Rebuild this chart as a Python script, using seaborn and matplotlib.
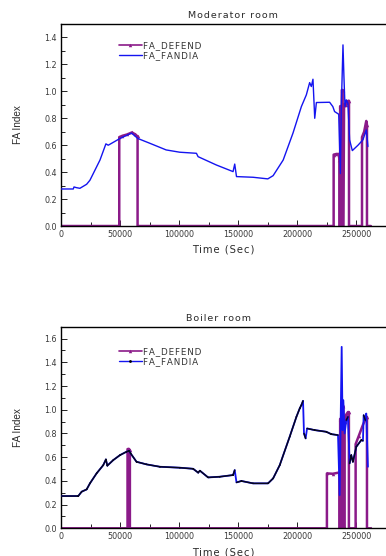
import matplotlib
matplotlib.use("Agg")
import matplotlib.pyplot as plt
from matplotlib.ticker import MultipleLocator, FuncFormatter
from matplotlib.lines import Line2D
import seaborn as sns
import pandas as pd
import numpy as np

# -----------------------------
# DATA
# -----------------------------
# Moderator room
mod_fandia_t = [0, 10400, 11000, 13000, 16000, 21700, 24500, 33000, 38000, 40000,
                49900, 59700, 65000, 75000, 89000, 100500, 114600, 116000, 131500,
                145600, 147000, 148500, 162500, 175000, 179500, 188000, 196300,
                203400, 207600, 210400, 211800, 213200, 214700, 216100, 227300,
                230000, 231500, 235000, 236400, 237200, 238600, 239400, 240300,
                241400, 242800, 244200, 246500, 251300, 255500, 258300, 259200, 259700]
mod_fandia_v = [0.275, 0.275, 0.29, 0.285, 0.28, 0.31, 0.34, 0.49, 0.61, 0.60,
                0.65, 0.69, 0.65, 0.615, 0.565, 0.548, 0.54, 0.515, 0.453,
                0.404, 0.46, 0.367, 0.362, 0.35, 0.374, 0.49, 0.69,
                0.887, 0.974, 1.065, 1.036, 1.09, 0.80, 0.917, 0.919,
                0.887, 0.85, 0.83, 0.39, 0.887, 1.345, 1.11, 0.887,
                0.937, 0.91, 0.64, 0.56, 0.60, 0.64, 0.714, 0.64, 0.59]

mod_defend_t = [0, 49300, 49300, 52000, 56000, 60000, 63000, 64800, 64800,
                230700, 230700, 233000, 235000, 235600, 235600, 236200, 236200,
                237000, 237000, 237600, 237600, 238300, 238300, 239000, 239500,
                240500, 241500, 243000, 243700, 243700, 254700, 254700, 256500,
                258300, 258900, 258900, 262000]
mod_defend_v = [0.0, 0.0, 0.66, 0.67, 0.68, 0.695, 0.68, 0.665, 0.0,
                0.0, 0.53, 0.535, 0.535, 0.49, 0.0, 0.0, 0.89, 0.89, 0.0,
                0.0, 1.01, 1.01, 0.0, 0.0, 0.9, 0.91, 0.90, 0.93, 0.93, 0.0,
                0.0, 0.66, 0.70, 0.78, 0.75, 0.0, 0.0]

# Boiler room
boil_fandia_t = [0, 14600, 17500, 21700, 24500, 30100, 35800, 38000, 39200, 44200,
                 49900, 55500, 57700, 58900, 63900, 72400, 83700, 100600, 111800,
                 116100, 117500, 124500, 134400, 145600, 147000, 148500, 152700,
                 162500, 175200, 179500, 185100, 193500, 199200, 202000, 203400,
                 204800, 205600, 207000, 208200, 214700, 224500, 228700, 234400,
                 235800, 236600, 237500, 238300, 238900, 240000, 241400, 242800,
                 244200, 245600, 247000, 249900, 254100, 255500, 256100, 257500,
                 258300, 259700]
boil_fandia_v = [0.272, 0.272, 0.309, 0.328, 0.379, 0.463, 0.533, 0.581, 0.528, 0.575,
                 0.617, 0.646, 0.654, 0.632, 0.561, 0.539, 0.519, 0.511, 0.502,
                 0.469, 0.486, 0.429, 0.435, 0.449, 0.491, 0.387, 0.399,
                 0.379, 0.379, 0.421, 0.533, 0.772, 0.940, 1.011, 1.039,
                 1.075, 0.80, 0.758, 0.842, 0.828, 0.814, 0.794, 0.786,
                 0.28, 0.884, 1.53, 0.828, 1.08, 0.80, 0.912, 0.94,
                 0.547, 0.617, 0.561, 0.688, 0.744, 0.738, 0.954, 0.912,
                 0.968, 0.519]

boil_defend_t = [0, 56300, 56300, 57300, 58300, 58300, 225000, 225000, 230000,
                 235200, 235600, 235600, 236200, 236200, 236800, 236800, 238300,
                 238300, 239000, 239000, 240000, 240000, 241400, 242800, 243600,
                 243600, 249300, 249300, 252000, 255000, 258300, 258900, 258900, 262000]
boil_defend_v = [0.0, 0.0, 0.668, 0.67, 0.66, 0.0, 0.0, 0.463, 0.46,
                 0.47, 0.47, 0.0, 0.0, 0.923, 0.923, 0.0, 0.0,
                 1.03, 1.03, 0.0, 0.0, 0.90, 0.96, 0.98, 0.98,
                 0.0, 0.0, 0.71, 0.78, 0.86, 0.94, 0.94, 0.0, 0.0]

titles = ["Moderator room", "Boiler room"]
title_x = [0.528, 0.485]
ylims = [1.5, 1.7]
ytick_max = [1.4, 1.6]
legend_labels = ["FA_DEFEND", "FA_FANDIA"]

PURPLE = "#8b1a89"
BLUE = "#1414f0"
TXT = "#2a2a2a"
HS = "\u200a"  # hair space, the original text is letter-spaced


def spaced(s):
    return HS.join(s)


sns.set_style("ticks")
plt.rcParams["font.family"] = ["DejaVu Sans"]

fig = plt.figure(figsize=(3.86, 5.56), dpi=100)
ax_top = fig.add_axes([0.158, 0.5935, 0.842, 0.3633])
ax_bot = fig.add_axes([0.158, 0.0498, 0.842, 0.3626])

panels = [
    (ax_top, mod_fandia_t, mod_fandia_v, mod_defend_t, mod_defend_v, False),
    (ax_bot, boil_fandia_t, boil_fandia_v, boil_defend_t, boil_defend_v, True),
]

for i, (ax, ft, fv, dt, dv, dark) in enumerate(panels):
    fandia = pd.DataFrame({"t": ft, "v": fv})
    defend = pd.DataFrame({"t": dt, "v": dv})

    sns.lineplot(data=fandia, x="t", y="v", ax=ax, color=BLUE,
                 linewidth=1.3 if dark else 1.0, estimator=None, sort=False, zorder=3)
    if dark:
        # black dot markers dominate where the curve is flat; steep jumps stay blue
        t = np.asarray(ft, float)
        v = np.asarray(fv, float)
        slope = np.abs(np.diff(v) / np.diff(t))
        xs, ys = [], []
        for k in range(len(slope)):
            if slope[k] < 5e-5:
                xs += [t[k], t[k + 1], np.nan]
                ys += [v[k], v[k + 1], np.nan]
        ax.plot(xs, ys, color="#06061e", linewidth=1.1, zorder=4)
    sns.lineplot(data=defend, x="t", y="v", ax=ax, color=PURPLE, linewidth=1.8,
                 marker="^", markersize=2.5, markeredgewidth=0,
                 estimator=None, sort=False, zorder=2)

    ax.set_xlim(0, 275000)
    ax.set_ylim(0, ylims[i])
    ax.xaxis.set_major_locator(MultipleLocator(50000))
    ax.xaxis.set_minor_locator(MultipleLocator(25000))
    ax.set_yticks(np.round(np.arange(0, ytick_max[i] + 0.01, 0.2), 1))
    ax.yaxis.set_minor_locator(MultipleLocator(0.1))
    ax.xaxis.set_major_formatter(FuncFormatter(lambda x, p: f"{int(x)}"))
    ax.yaxis.set_major_formatter(FuncFormatter(lambda y, p: f"{y:.1f}"))
    ax.tick_params(which="both", direction="in", labelsize=5.8, labelcolor="#3a3a3a",
                   width=0.7, pad=3, color="#222222")
    ax.tick_params(which="major", length=4)
    ax.tick_params(which="minor", length=3)

    for side in ["top", "left", "bottom"]:
        ax.spines[side].set_visible(True)
        ax.spines[side].set_color("black")
        ax.spines[side].set_linewidth(1.0)
    ax.spines["right"].set_visible(False)

    ax.set_title(spaced(titles[i]), fontsize=6.8, color=TXT, pad=4, x=title_x[i])
    ax.set_xlabel(spaced("Time (Sec)"), fontsize=7.2, color=TXT, labelpad=4)
    ax.set_ylabel("FA Index", fontsize=7.2, color=TXT, labelpad=15,
                  family="Liberation Sans")

    handles = [
        Line2D([], [], color=PURPLE, linewidth=1.2, marker="^", markersize=2.5,
               markeredgewidth=0),
        Line2D([], [], color=BLUE, linewidth=1.0,
               marker="." if dark else None, markersize=2,
               markerfacecolor="black", markeredgecolor="black",
               linestyle="-"),
    ]
    ax.legend(handles, [spaced(s) for s in legend_labels],
              loc="upper left", bbox_to_anchor=(0.178, 0.915 if not dark else 0.9),
              frameon=False, fontsize=6.3, handlelength=2.6, handletextpad=0.15,
              labelspacing=0.15, borderpad=0, borderaxespad=0,
              labelcolor="#333333")

fig.savefig("out.png", dpi=100)
